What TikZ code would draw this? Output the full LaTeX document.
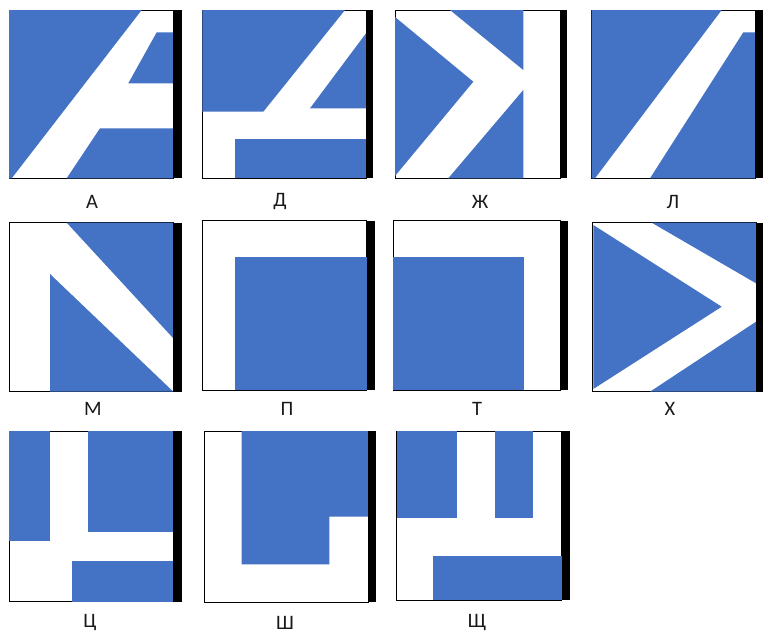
\documentclass[tikz,border=0pt]{standalone}
\usepackage{fontspec}
\setmainfont{Carlito}
\definecolor{tileblue}{RGB}{68,114,196}
\tikzset{
  tilebox/.style={draw=black,line width=1pt,fill=white},
  bluepart/.style={fill=tileblue,draw=none},
  sidebar/.style={fill=black,draw=none},
  lbl/.style={font=\fontsize{20.5}{23}\selectfont,inner sep=0pt,text=black!90}
}
\begin{document}
\begin{tikzpicture}[x=1pt,y=-1pt]
\useasboundingbox (0,0) rectangle (763,638);
% ---------- Row 1 ----------
% A
\draw[tilebox] (9,10) rectangle (173.3,178.3);
\fill[bluepart] (9,10) -- (141.7,10) -- (11.7,178.3) -- (9,178.3) -- cycle;
\fill[bluepart] (156.7,32.3) -- (173.3,32.3) -- (173.3,83.3) -- (128.3,83.3) -- cycle;
\fill[bluepart] (100,128.3) -- (173.3,128.3) -- (173.3,178.3) -- (66.7,178.3) -- cycle;
\fill[sidebar] (173.3,10) rectangle (181.7,178.3);
\node[lbl] (lA) at (92,202) {А};
% D
\draw[tilebox] (202.3,10) rectangle (366,178.3);
\fill[bluepart] (202.3,10) -- (345,10) -- (263.3,111.7) -- (202.3,111.7) -- cycle;
\fill[bluepart] (366,33.3) -- (366,108.3) -- (310,108.3) -- cycle;
\fill[bluepart] (235,139.3) rectangle (366,178.3);
\fill[sidebar] (366,10) rectangle (373.3,178.3);
\node[lbl] (lD) at (280,202) {Д};
% Zh
\draw[tilebox] (395,10) rectangle (560,178.3);
\fill[bluepart] (395,17) -- (473.3,81.7) -- (395,176) -- cycle;
\fill[bluepart] (450,10) -- (523.3,10) -- (523.3,70) -- cycle;
\fill[bluepart] (523.3,90) -- (523.3,178.3) -- (448.3,178.3) -- cycle;
\fill[sidebar] (560,10) rectangle (566.7,178.3);
\node[lbl] (lZh) at (480,202) {Ж};
% L
\draw[tilebox] (591.7,10) rectangle (755,178.3);
\fill[bluepart] (591.7,10) -- (721.7,10) -- (595,178.3) -- (591.7,178.3) -- cycle;
\fill[bluepart] (650,178.3) -- (743.3,32.3) -- (755,32.3) -- (755,178.3) -- cycle;
\fill[sidebar] (755,10) rectangle (763,178.3);
\node[lbl] (lL) at (673,202) {Л};
% ---------- Row 2 ----------
% M
\draw[tilebox] (9,222.7) rectangle (173.3,391.7);
\fill[bluepart] (66.7,222.7) -- (173.3,222.7) -- (173.3,338.3) -- cycle;
\fill[bluepart] (50,274) -- (173.3,391.7) -- (50,391.7) -- cycle;
\fill[sidebar] (173.3,222.7) rectangle (181.7,391.7);
\node[lbl] (lM) at (93,409) {М};
% P
\draw[tilebox] (202.3,220.7) rectangle (366.7,390);
\fill[bluepart] (235,257.3) rectangle (366.7,390);
\fill[sidebar] (366.7,220.7) rectangle (375,390);
\node[lbl] (lP) at (287,409) {П};
% T
\draw[tilebox] (393.3,220.7) rectangle (560,390);
\fill[bluepart] (393.3,257.3) rectangle (524,390);
\fill[sidebar] (560,220.7) rectangle (568.3,390);
\node[lbl] (lT) at (477,409) {Т};
% Kh
\draw[tilebox] (592.7,222.7) rectangle (756,391.7);
\fill[bluepart] (593.3,225) -- (721.7,306.7) -- (593.3,389) -- cycle;
\fill[bluepart] (651.7,222.7) -- (756,222.7) -- (756,283.3) -- cycle;
\fill[bluepart] (756,321.7) -- (756,391.7) -- (650,391.7) -- cycle;
\fill[sidebar] (756,222.7) rectangle (763.3,391.7);
\node[lbl] (lKh) at (670,409) {Х};
% ---------- Row 3 ----------
% Ts
\draw[tilebox] (9,431) rectangle (173.3,601.7);
\fill[bluepart] (9,431) rectangle (50,541);
\fill[bluepart] (87.7,431) rectangle (173.3,532.3);
\fill[bluepart] (71.7,560.7) rectangle (173.3,601.7);
\fill[sidebar] (173.3,431) rectangle (181.7,601.7);
\node[lbl] (lTs) at (90,623) {Ц};
% Sh
\draw[tilebox] (204,431) rectangle (368.3,602.3);
\fill[bluepart] (241.7,431) -- (368.3,431) -- (368.3,516.7) -- (329.3,516.7) -- (329.3,564.3) -- (241.7,564.3) -- cycle;
\fill[sidebar] (368.3,431) rectangle (376,602.3);
\node[lbl] (lSh) at (285,623) {Ш};
% Shch
\draw[tilebox] (396.7,431) rectangle (561.7,600);
\fill[bluepart] (396.7,431) rectangle (457.3,518.3);
\fill[bluepart] (495,431) rectangle (533.3,518.3);
\fill[bluepart] (433.3,556) rectangle (561.7,600);
\fill[sidebar] (561.7,431) rectangle (570,600);
\node[lbl] (lShch) at (477,623) {Щ};
\end{tikzpicture}
\end{document}
